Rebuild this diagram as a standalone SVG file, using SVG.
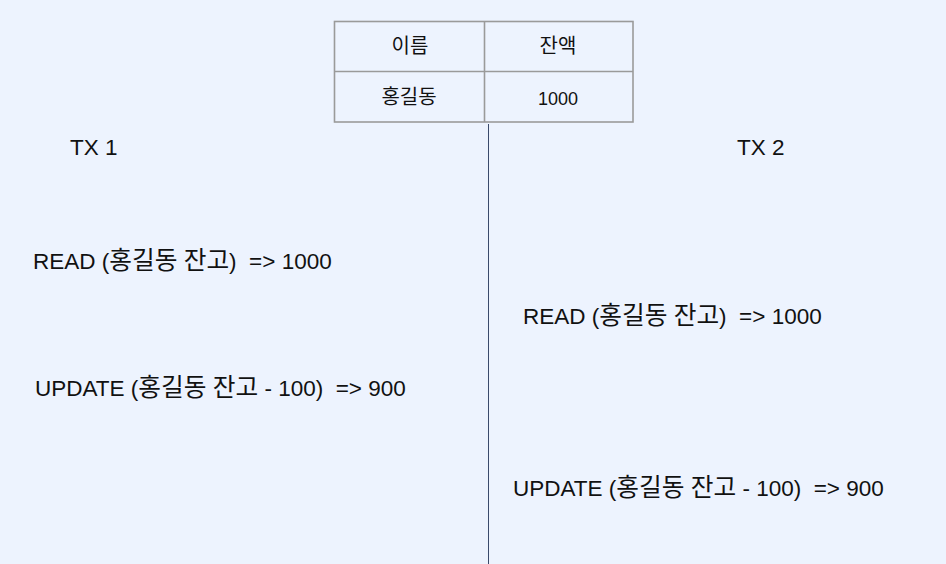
<svg xmlns="http://www.w3.org/2000/svg" width="946" height="564" viewBox="0 0 946 564">
<style>
text{font-family:"Liberation Sans","Noto Sans CJK KR",Arial,sans-serif;fill:#111;white-space:pre;}
.big{font-size:22.5px;}
.big .k{font-size:24.7px;font-family:"Noto Sans CJK KR","Liberation Sans",sans-serif;}
.cell{font-size:18px;text-anchor:middle;}
.cell .k{font-size:20px;font-family:"Noto Sans CJK KR","Liberation Sans",sans-serif;}
.grid{fill:none;stroke:#9a9a9a;stroke-width:1.6;}
</style>
<rect width="946" height="564" fill="#EDF3FE"/>
<g id="table">
<rect class="grid" x="334.5" y="21.5" width="298.5" height="100.5"/>
<line class="grid" x1="484.5" y1="21.5" x2="484.5" y2="122"/>
<line class="grid" x1="334.5" y1="71.5" x2="633" y2="71.5"/>
<text class="cell" x="410" y="53"><tspan class="k">이름</tspan></text>
<text class="cell" x="558" y="53"><tspan class="k">잔액</tspan></text>
<text class="cell" x="409" y="104"><tspan class="k">홍길동</tspan></text>
<text class="cell" x="558" y="105">1000</text>
</g>
<g id="connectors">
<line x1="488.5" y1="124" x2="488.5" y2="564" stroke="#3a4a6b" stroke-width="1"/>
</g>
<g id="tx1"><text class="big" x="70" y="155">TX 1</text></g>
<g id="tx2"><text class="big" x="737" y="155">TX 2</text></g>
<g id="read1"><text class="big" x="33" y="269" xml:space="preserve">READ (<tspan class="k">홍길동</tspan> <tspan class="k">잔고</tspan>)  =&gt; 1000</text></g>
<g id="update1"><text class="big" x="35" y="396" xml:space="preserve">UPDATE (<tspan class="k">홍길동</tspan> <tspan class="k">잔고</tspan> - 100)  =&gt; 900</text></g>
<g id="read2"><text class="big" x="523" y="324" xml:space="preserve">READ (<tspan class="k">홍길동</tspan> <tspan class="k">잔고</tspan>)  =&gt; 1000</text></g>
<g id="update2"><text class="big" x="513" y="496" xml:space="preserve">UPDATE (<tspan class="k">홍길동</tspan> <tspan class="k">잔고</tspan> - 100)  =&gt; 900</text></g>
</svg>
